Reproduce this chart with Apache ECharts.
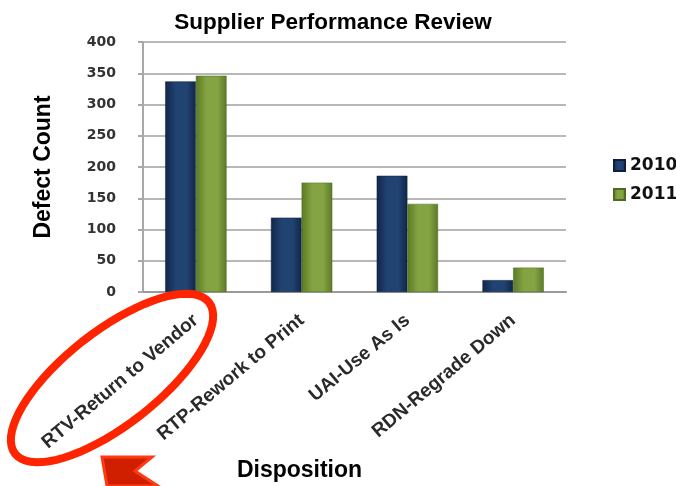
<!DOCTYPE html>
<html><head><meta charset="utf-8">
<script src="https://cdn.jsdelivr.net/npm/echarts@6/dist/echarts.min.js"></script>
<style>html,body{margin:0;padding:0;background:#fff}#c{width:676px;height:486px}</style>
</head><body><div id="c"></div>
<script>
var categories = ['RTV-Return to Vendor', 'RTP-Rework to Print', 'UAI-Use As Is', 'RDN-Regrade Down'];
var seriesNames = ['2010', '2011'];
var values2010 = [337, 119, 186, 19];
var values2011 = [346, 175, 141, 39];
var yTicks = [0, 50, 100, 150, 200, 250, 300, 350, 400];

function grad(edge, mid) {
  return new echarts.graphic.LinearGradient(0, 0, 1, 0, [
    {offset: 0, color: edge}, {offset: 0.35, color: mid}, {offset: 0.7, color: mid}, {offset: 1, color: edge}
  ]);
}
// decorative ellipse outline
var ell = [];
var cx = 112, cy = 378, ea = 123, eb = 47, th = 38 * Math.PI / 180;
for (var i = 0; i < 72; i++) {
  var t = i / 72 * 2 * Math.PI;
  ell.push([cx + ea * Math.cos(t) * Math.cos(th) + eb * Math.sin(t) * Math.sin(th),
            cy - ea * Math.cos(t) * Math.sin(th) + eb * Math.sin(t) * Math.cos(th)]);
}
var chart = echarts.init(document.getElementById('c'));
chart.setOption({
  animation: false,
  title: {
    text: 'Supplier Performance Review', left: 328, top: 6, textAlign: 'center',
    textStyle: {fontFamily: 'Liberation Sans', fontWeight: 'bold', fontSize: 22.5, color: '#000'}
  },
  legend: {
    data: seriesNames, orient: 'vertical', left: 608, top: 152, itemGap: 12,
    itemWidth: 11, itemHeight: 11, icon: 'rect',
    textStyle: {fontFamily: 'DejaVu Sans', fontWeight: 'bold', fontSize: 17, color: '#111'}
  },
  grid: {left: 143, right: 110, top: 42, bottom: 194, containLabel: false, outerBoundsMode: 'none'},
  xAxis: {
    type: 'category', data: categories,
    name: 'Disposition', nameLocation: 'middle', nameGap: 166,
    nameTextStyle: {fontFamily: 'Liberation Sans', fontWeight: 'bold', fontSize: 23, color: '#000', padding: [0, 110, 0, 0]},
    axisLine: {lineStyle: {color: '#9a9a9a', width: 2}},
    axisTick: {show: false},
    axisLabel: {rotate: 40, margin: 26, interval: 0, fontFamily: 'Liberation Sans', fontWeight: 'bold', fontSize: 19, color: '#2a2a2a'}
  },
  yAxis: {
    type: 'value', min: 0, max: 400, interval: 50,
    name: 'Defect Count', nameLocation: 'middle', nameGap: 88,
    nameTextStyle: {fontFamily: 'Liberation Sans', fontWeight: 'bold', fontSize: 23, color: '#000'},
    axisLine: {show: true, lineStyle: {color: '#a8a8a8', width: 2}},
    axisTick: {show: true, inside: false, length: 5, lineStyle: {color: '#a8a8a8', width: 2}},
    splitLine: {lineStyle: {color: '#b8b8b8', width: 2}},
    axisLabel: {margin: 27, fontFamily: 'DejaVu Sans', fontWeight: 'bold', fontSize: 14, color: '#333',
      formatter: function (v) { return yTicks.indexOf(v) >= 0 ? String(v) : ''; }}
  },
  series: [
    {name: seriesNames[0], type: 'bar', data: values2010, barGap: '0%', barCategoryGap: '42%',
     itemStyle: {color: grad('#10264a', '#214372'), borderColor: '#0d1f3d', borderWidth: 0.5}},
    {name: seriesNames[1], type: 'bar', data: values2011,
     itemStyle: {color: grad('#5b7a26', '#84a444'), borderColor: '#4d6a1e', borderWidth: 0.5}}
  ],
  color: ['#1d3b68', '#7f9f3e'],
  graphic: [
    {type: 'polygon', shape: {points: ell}, z: 100,
     style: {fill: 'none', stroke: '#ff2400', lineWidth: 8}},
    {type: 'polygon', z: 100,
     shape: {points: [[102, 457], [152, 457], [135, 471], [158, 486], [107, 486]]},
     style: {fill: '#d01e00', stroke: '#ff3a10', lineWidth: 3}}
  ]
});
</script></body></html>
